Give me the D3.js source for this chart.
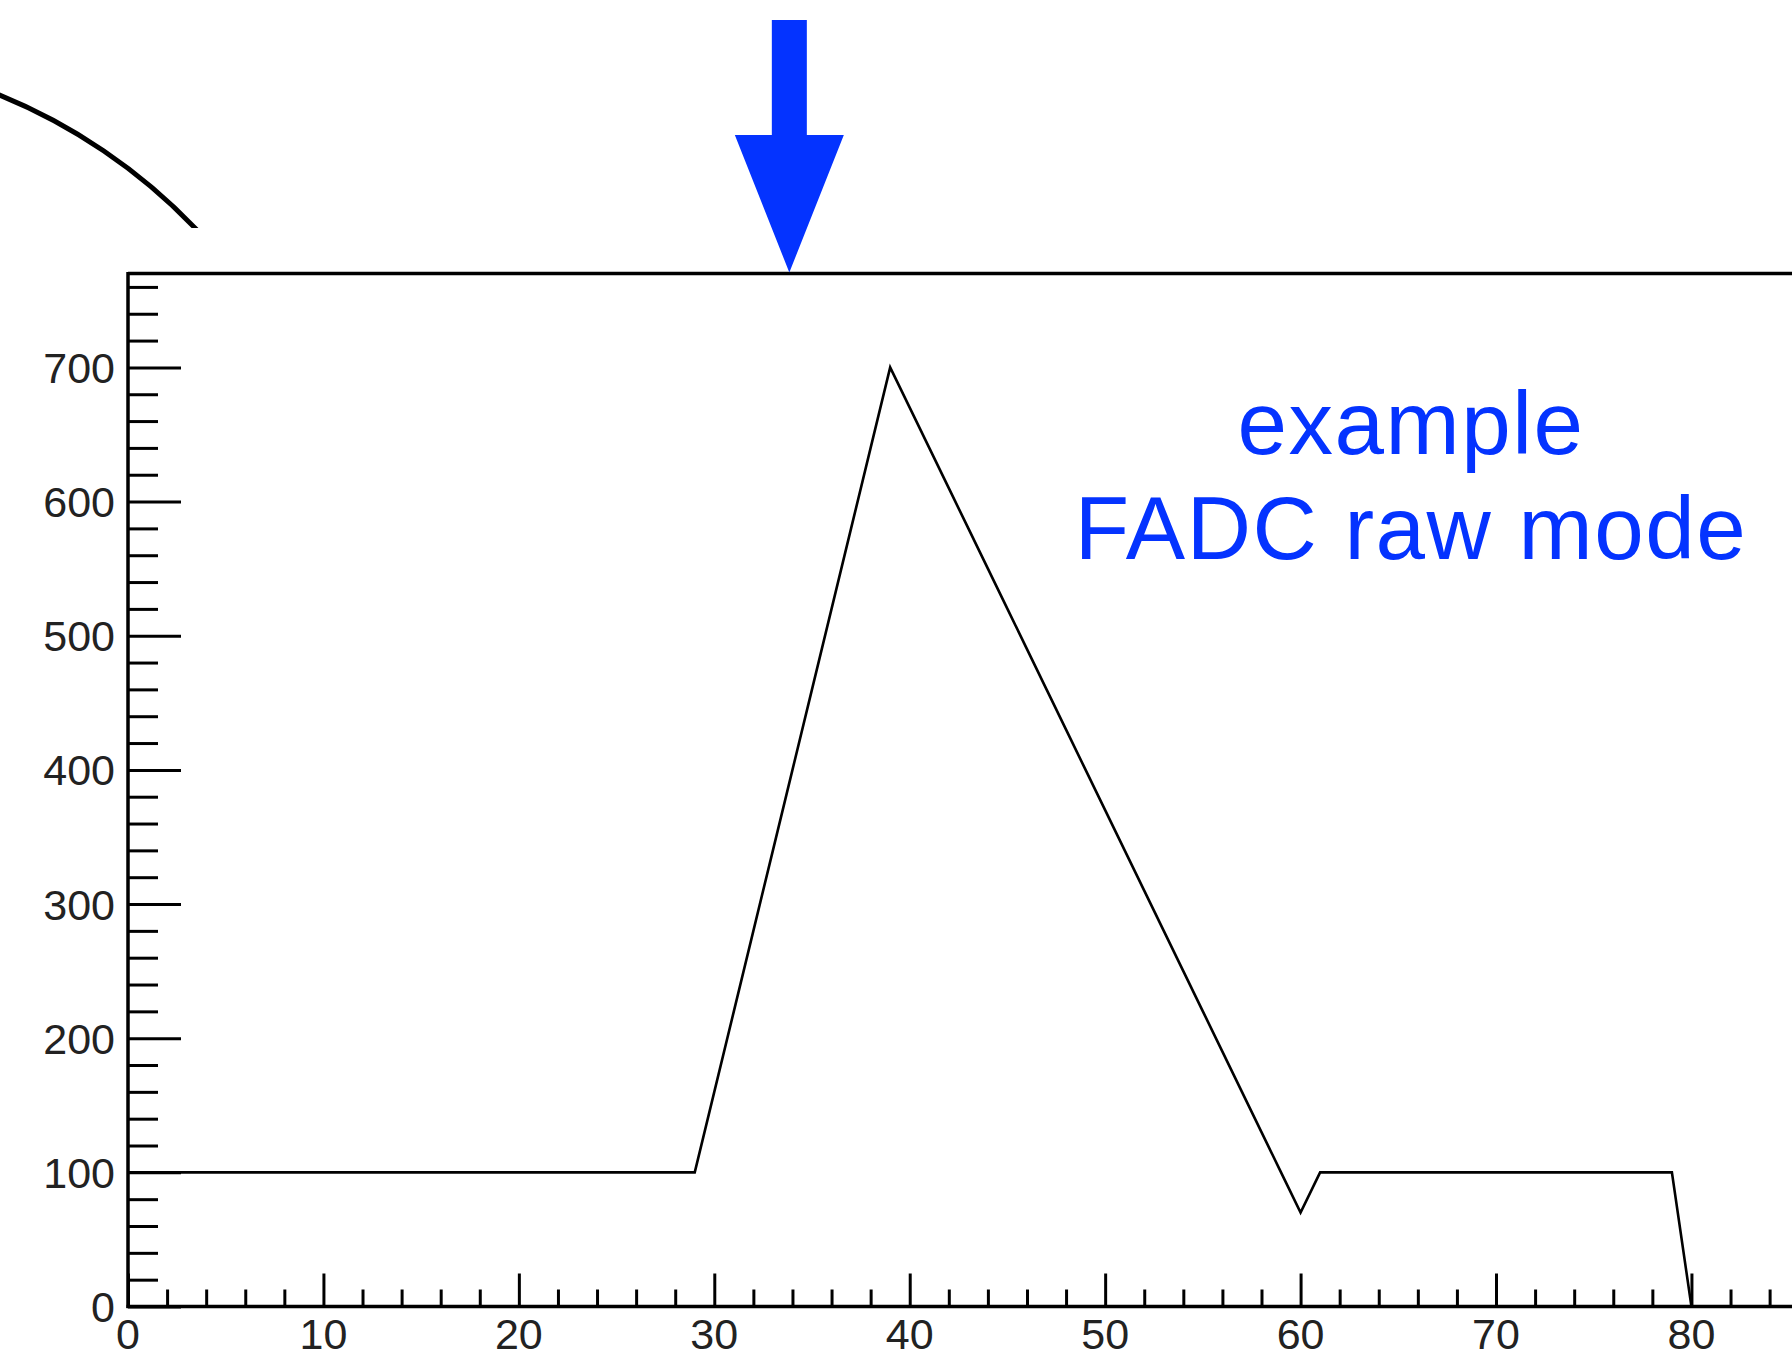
<!DOCTYPE html>
<html>
<head>
<meta charset="utf-8">
<script src="https://cdn.jsdelivr.net/npm/d3@7"></script>
<style>
  html, body { margin: 0; padding: 0; background: #fff; overflow: hidden; }
  svg { display: block; }
</style>
</head>
<body>
<svg id="chart" width="1792" height="1349"></svg>
<script>
// ---- data ----
const sampleIndex = [
  0,1,2,3,4,5,6,7,8,9,10,11,12,13,14,15,16,17,18,19,
  20,21,22,23,24,25,26,27,28,29,30,31,32,33,34,35,36,37,38,39,
  40,41,42,43,44,45,46,47,48,49,50,51,52,53,54,55,56,57,58,59,
  60,61,62,63,64,65,66,67,68,69,70,71,72,73,74,75,76,77,78,79,80
];
const adcValues = [
  100,100,100,100,100,100,100,100,100,100,100,100,100,100,100,100,100,100,100,100,
  100,100,100,100,100,100,100,100,100,100,160,220,280,340,400,460,520,580,640,700,
  670,640,610,580,550,520,490,460,430,400,370,340,310,280,250,220,190,160,130,100,
  70,100,100,100,100,100,100,100,100,100,100,100,100,100,100,100,100,100,100,100,0
];
const xMajorTicks = [0,10,20,30,40,50,60,70,80,90,100];
const xMinorTicks = [2,4,6,8,12,14,16,18,22,24,26,28,32,34,36,38,42,44,46,48,52,54,56,58,62,64,66,68,72,74,76,78,82,84,86,88];
const yMajorTicks = [0,100,200,300,400,500,600,700];
const yMinorTicks = [20,40,60,80,120,140,160,180,220,240,260,280,320,340,360,380,420,440,460,480,520,540,560,580,620,640,660,680,720,740,760];
const annotationLines = ["example", "FADC raw mode"];
const arrowSample = 33.84;

// ---- layout ----
const svg = d3.select("#chart");
const blue = "#0433ff";
const x = d3.scaleLinear().domain([0, 100]).range([128, 128 + 100 * 19.543]);
const y = d3.scaleLinear().domain([0, 770]).range([1306.5, 273.5]);

// decorative arc (top-left)
const clip = svg.append("defs").append("clipPath").attr("id", "arcClip");
clip.append("rect").attr("x", -50).attr("y", 0).attr("width", 400).attr("height", 228);
svg.append("path")
  .attr("clip-path", "url(#arcClip)")
  .attr("d", "M-30,84 A568,568 0 0 1 215,250")
  .attr("fill", "none").attr("stroke", "#000").attr("stroke-width", 5);

// frame top line
svg.append("line")
  .attr("x1", x(0)).attr("x2", 1800)
  .attr("y1", y(770)).attr("y2", y(770))
  .attr("stroke", "#000").attr("stroke-width", 3.5);

// x axis
const xAxisG = svg.append("g").attr("transform", `translate(0,${y(0)})`);
xAxisG.call(d3.axisTop(x).tickValues(xMajorTicks).tickSize(33).tickFormat(""));
xAxisG.append("g").call(d3.axisTop(x).tickValues(xMinorTicks).tickSize(17).tickFormat(""));
xAxisG.selectAll("path.domain").remove();
xAxisG.selectAll("line").attr("stroke", "#000").attr("stroke-width", 3);
svg.append("line")
  .attr("x1", x(0) - 1.5).attr("x2", 1800)
  .attr("y1", y(0)).attr("y2", y(0))
  .attr("stroke", "#000").attr("stroke-width", 3.5);

// x labels
svg.append("g").selectAll("text")
  .data(xMajorTicks.filter(d => x(d) < 1792))
  .join("text")
  .attr("x", d => x(d)).attr("y", 1349)
  .attr("text-anchor", "middle")
  .attr("font-family", "Liberation Sans, Arial, Helvetica, sans-serif")
  .attr("font-size", 43).attr("fill", "#222")
  .text(d => d);

// y axis
const yAxisG = svg.append("g").attr("transform", `translate(${x(0)},0)`);
yAxisG.call(d3.axisRight(y).tickValues(yMajorTicks).tickSize(53).tickFormat(""));
yAxisG.append("g").call(d3.axisRight(y).tickValues(yMinorTicks).tickSize(30).tickFormat(""));
yAxisG.selectAll("path.domain").remove();
yAxisG.selectAll("line").attr("stroke", "#000").attr("stroke-width", 3);
svg.append("line")
  .attr("x1", x(0)).attr("x2", x(0))
  .attr("y1", y(770) - 1.5).attr("y2", y(0) + 1.5)
  .attr("stroke", "#000").attr("stroke-width", 3.5);

// y labels
svg.append("g").selectAll("text")
  .data(yMajorTicks)
  .join("text")
  .attr("x", x(0) - 13).attr("y", d => y(d))
  .attr("dy", "0.36em")
  .attr("text-anchor", "end")
  .attr("font-family", "Liberation Sans, Arial, Helvetica, sans-serif")
  .attr("font-size", 43).attr("fill", "#222")
  .text(d => d);

// data trace
const pts = sampleIndex.map((s, i) => [s, adcValues[i]]);
svg.append("path")
  .datum(pts)
  .attr("d", d3.line().x(d => x(d[0])).y(d => y(d[1])))
  .attr("fill", "none").attr("stroke", "#000").attr("stroke-width", 2.6)
  .attr("stroke-linejoin", "miter");

// arrow annotation
const ax = x(arrowSample), tipY = y(770);
const arrowPts = [
  [ax - 17.5, 20], [ax + 17.5, 20], [ax + 17.5, 135], [ax + 54.5, 135],
  [ax, tipY - 1], [ax - 54.5, 135], [ax - 17.5, 135]
];
svg.append("polygon")
  .attr("points", arrowPts.map(p => p.join(",")).join(" "))
  .attr("fill", blue);

// text annotation
const tx = 1411;
svg.append("g").selectAll("text")
  .data(annotationLines)
  .join("text")
  .attr("x", tx).attr("y", (d, i) => 454 + i * 105)
  .attr("text-anchor", "middle")
  .attr("font-family", "Liberation Sans, Arial, Helvetica, sans-serif")
  .attr("font-size", 89).attr("letter-spacing", 1.5).attr("fill", blue)
  .text(d => d);
</script>
</body>
</html>
